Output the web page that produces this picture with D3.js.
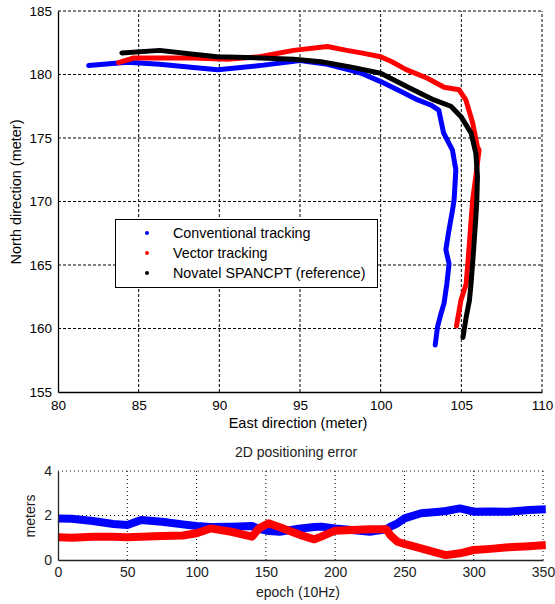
<!DOCTYPE html>
<html>
<head>
<meta charset="utf-8">
<script src="https://cdn.jsdelivr.net/npm/d3@7"></script>
<style>
  body { margin: 0; background: #fff; }
  svg text { font-family: "Liberation Sans", Arial, sans-serif; }
</style>
</head>
<body>
<div id="chart"></div>
<script>
// trajectory data: east (m), north (m)
var convEast  = [81.9, 84.3, 86.3, 88.4, 89.9, 92.5, 95.0, 96.7, 98.1, 98.8, 100.0, 101.2, 102.3, 103.1, 103.6, 103.9, 104.45, 104.66, 104.55, 104.45, 104.2, 104.04, 104.24, 104.1, 103.93, 103.7, 103.52, 103.38];
var convNorth = [180.7, 180.97, 180.8, 180.55, 180.37, 180.7, 181.1, 180.8, 180.34, 180.1, 179.44, 178.7, 178.0, 177.6, 177.2, 175.4, 174.05, 172.5, 170.1, 169.3, 167.5, 166.2, 165.1, 163.5, 162.0, 161.0, 160.1, 158.7];

var vecEast  = [83.75, 84.7, 86.5, 88.4, 90.5, 92.5, 94.6, 96.7, 97.9, 98.8, 100.0, 100.7, 101.55, 102.9, 103.93, 104.86, 105.28, 105.7, 106.0, 106.1, 105.9, 105.7, 105.5, 105.3, 104.97, 104.7];
var vecNorth = [180.94, 181.3, 181.3, 181.3, 181.2, 181.4, 181.9, 182.2, 181.9, 181.7, 181.4, 181.0, 180.4, 179.7, 179.0, 178.8, 178.0, 176.2, 174.3, 174.05, 172.0, 170.1, 166.7, 163.5, 162.2, 160.2];

var refEast  = [83.96, 86.3, 88.4, 89.86, 92.55, 94.6, 96.3, 98.1, 100.0, 101.86, 103.3, 104.35, 104.97, 105.6, 105.9, 106.0, 105.96, 105.9, 105.75, 105.6, 105.5, 105.3, 105.1];
var refNorth = [181.7, 181.9, 181.6, 181.4, 181.3, 181.2, 181.0, 180.6, 180.1, 178.9, 178.0, 177.5, 176.7, 175.4, 173.8, 172.0, 170.1, 168.8, 166.0, 163.5, 162.2, 160.9, 159.3];

// 2D positioning error (meters) vs epoch
var epochs   = [0, 10, 25, 40, 50, 60, 75, 90, 100, 110, 125, 140, 145, 152, 160, 175, 185, 190, 200, 212, 225, 237, 240, 245, 250, 262, 275, 280, 290, 300, 312, 325, 340, 352];
var convErr  = [1.87, 1.85, 1.75, 1.62, 1.57, 1.8, 1.72, 1.6, 1.53, 1.48, 1.5, 1.53, 1.4, 1.3, 1.27, 1.42, 1.48, 1.5, 1.42, 1.35, 1.27, 1.38, 1.5, 1.65, 1.87, 2.1, 2.17, 2.2, 2.32, 2.17, 2.18, 2.17, 2.25, 2.28];
var vecErr   = [1.02, 1.0, 1.05, 1.05, 1.02, 1.05, 1.08, 1.1, 1.2, 1.42, 1.27, 1.05, 1.42, 1.65, 1.47, 1.12, 0.93, 1.05, 1.32, 1.35, 1.38, 1.38, 1.1, 0.82, 0.72, 0.52, 0.3, 0.22, 0.3, 0.45, 0.5, 0.57, 0.62, 0.67];

var xTicksTop = [80, 85, 90, 95, 100, 105, 110];
var yTicksTop = [155, 160, 165, 170, 175, 180, 185];
var xTicksBot = [0, 50, 100, 150, 200, 250, 300, 350];
var yTicksBot = [0, 2, 4];

var legendLabels = ["Conventional tracking", "Vector tracking", "Novatel SPANCPT (reference)"];
var colors = ["#0000ff", "#ff0000", "#000000"];

var W = 555, H = 604;
var svg = d3.select("#chart").append("svg")
    .attr("width", W)
    .attr("height", H);

// ---------- top plot ----------
var x = d3.scaleLinear().domain([80, 110]).range([58, 542]);
var y = d3.scaleLinear().domain([155, 185]).range([392, 11]);

var topG = svg.append("g");

// grid
topG.selectAll(".gx").data(xTicksTop.slice(1)).enter().append("line")
    .attr("x1", function(d) { return x(d); }).attr("x2", function(d) { return x(d); })
    .attr("y1", y(155)).attr("y2", y(185))
    .attr("stroke", "#000").attr("stroke-width", 1).attr("stroke-dasharray", "3,2");
topG.selectAll(".gy").data(yTicksTop.slice(1)).enter().append("line")
    .attr("x1", x(80)).attr("x2", x(110))
    .attr("y1", function(d) { return y(d); }).attr("y2", function(d) { return y(d); })
    .attr("stroke", "#000").attr("stroke-width", 1).attr("stroke-dasharray", "3,2");

// axes
var xAxis = d3.axisBottom(x).tickValues(xTicksTop).tickSize(0).tickPadding(8);
var yAxis = d3.axisLeft(y).tickValues(yTicksTop).tickSize(0).tickPadding(6);
var gx = topG.append("g").attr("transform", "translate(0," + y(155) + ")").call(xAxis);
var gy = topG.append("g").attr("transform", "translate(" + x(80) + ",0)").call(yAxis);
[gx, gy].forEach(function(g) {
  g.select(".domain").attr("stroke", "#000").attr("stroke-width", 1.3);
  g.selectAll("text").attr("font-size", 13.5).attr("fill", "#000")
    .style("font-family", "Liberation Sans, Arial, sans-serif");
});

// trajectories
var line = d3.line()
    .x(function(d) { return x(d[0]); })
    .y(function(d) { return y(d[1]); });
var tracks = [d3.zip(convEast, convNorth), d3.zip(vecEast, vecNorth), d3.zip(refEast, refNorth)];
tracks.forEach(function(pts, i) {
  topG.append("path")
    .datum(pts)
    .attr("d", line)
    .attr("fill", "none")
    .attr("stroke", colors[i])
    .attr("stroke-width", 5)
    .attr("stroke-linejoin", "round")
    .attr("stroke-linecap", "round");
});

// labels
topG.append("text")
    .attr("x", 298).attr("y", 428)
    .attr("text-anchor", "middle").attr("font-size", 14.5)
    .text("East direction (meter)");
topG.append("text")
    .attr("transform", "translate(21,192) rotate(-90)")
    .attr("text-anchor", "middle").attr("font-size", 14.5)
    .text("North direction (meter)");

// legend
var lg = topG.append("g");
lg.append("rect")
    .attr("x", 115.5).attr("y", 219.5).attr("width", 262).attr("height", 68)
    .attr("fill", "#fff").attr("stroke", "#000").attr("stroke-width", 1);
legendLabels.forEach(function(lab, i) {
  lg.append("circle")
    .attr("cx", 147).attr("cy", 233 + i * 20).attr("r", 2)
    .attr("fill", colors[i]);
  lg.append("text")
    .attr("x", 173).attr("y", 238 + i * 20)
    .attr("font-size", 14.3)
    .text(lab);
});

// ---------- bottom plot ----------
var x2 = d3.scaleLinear().domain([0, 350]).range([58, 543]);
var y2 = d3.scaleLinear().domain([0, 4]).range([560, 471]);

var bot = svg.append("g");

bot.selectAll(".bx").data(xTicksBot.slice(1)).enter().append("line")
    .attr("x1", function(d) { return x2(d); }).attr("x2", function(d) { return x2(d); })
    .attr("y1", y2(0)).attr("y2", y2(4))
    .attr("stroke", "#000").attr("stroke-width", 1).attr("stroke-dasharray", "1,3");
bot.selectAll(".by").data(yTicksBot.slice(1)).enter().append("line")
    .attr("x1", x2(0)).attr("x2", x2(350))
    .attr("y1", function(d) { return y2(d); }).attr("y2", function(d) { return y2(d); })
    .attr("stroke", "#000").attr("stroke-width", 1).attr("stroke-dasharray", "1,3");

var errLine = d3.line()
    .x(function(d) { return x2(d[0]); })
    .y(function(d) { return y2(d[1]); });
[d3.zip(epochs, convErr), d3.zip(epochs, vecErr)].forEach(function(pts, i) {
  bot.append("path")
    .datum(pts)
    .attr("d", errLine)
    .attr("fill", "none")
    .attr("stroke", colors[i])
    .attr("stroke-width", 8)
    .attr("stroke-linejoin", "round");
});

var gx2 = bot.append("g").attr("transform", "translate(0," + y2(0) + ")")
    .call(d3.axisBottom(x2).tickValues(xTicksBot).tickSize(0).tickPadding(7));
var gy2 = bot.append("g").attr("transform", "translate(" + x2(0) + ",0)")
    .call(d3.axisLeft(y2).tickValues(yTicksBot).tickFormat(d3.format("d")).tickSize(0).tickPadding(6));
[gx2, gy2].forEach(function(g) {
  g.select(".domain").attr("stroke", "#222").attr("stroke-width", 1.3);
  g.selectAll("text").attr("font-size", 14).attr("fill", "#222")
    .style("font-family", "Liberation Sans, Arial, sans-serif");
});

bot.append("text")
    .attr("x", 296).attr("y", 457)
    .attr("text-anchor", "middle").attr("font-size", 14).attr("fill", "#222")
    .text("2D positioning error");
bot.append("text")
    .attr("x", 298).attr("y", 597)
    .attr("text-anchor", "middle").attr("font-size", 14).attr("fill", "#222")
    .text("epoch (10Hz)");
bot.append("text")
    .attr("transform", "translate(35,516) rotate(-90)")
    .attr("text-anchor", "middle").attr("font-size", 14).attr("fill", "#222")
    .text("meters");
</script>
</body>
</html>
